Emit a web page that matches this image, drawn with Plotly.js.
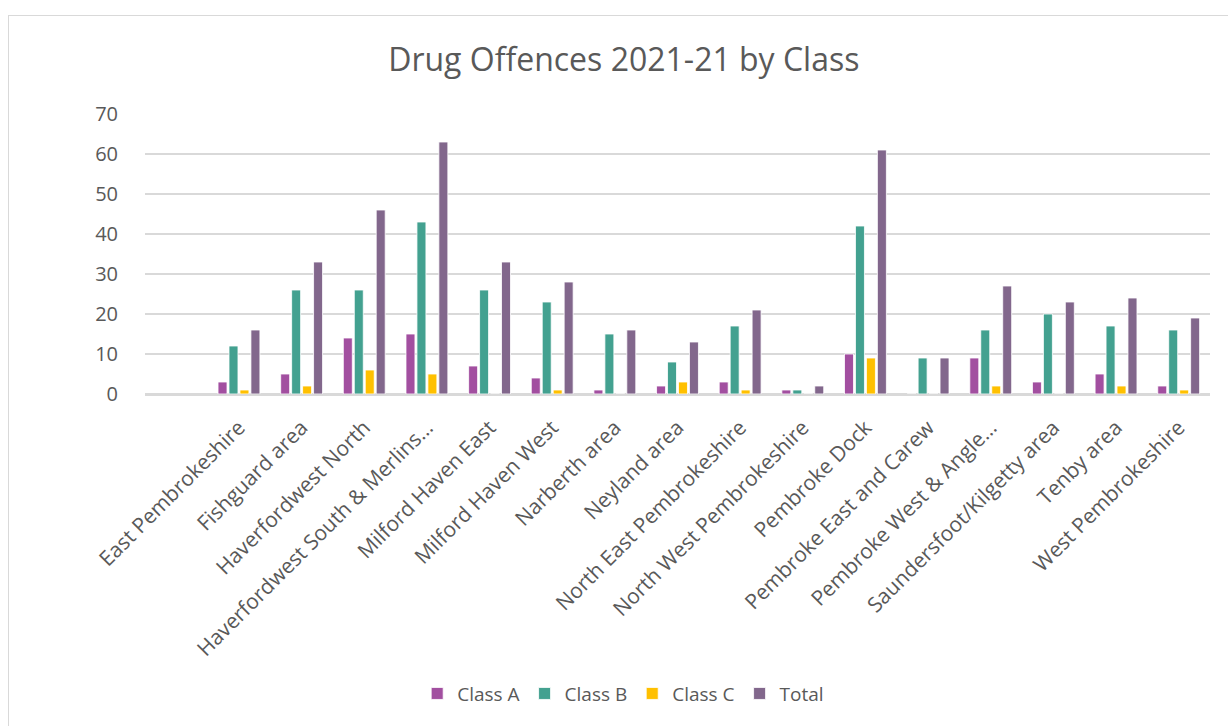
<!DOCTYPE html>
<html>
<head>
<meta charset="utf-8">
<script src="https://cdn.plot.ly/plotly-3.0.1.min.js"></script>
<style>
body{margin:0;padding:0;background:#fff;}
#wrap{position:relative;width:1228px;height:726px;overflow:hidden;}
#frame{position:absolute;left:8px;top:15px;width:1240px;height:740px;border:1.5px solid #d9d9d9;box-sizing:border-box;pointer-events:none;}
#chart{position:absolute;left:0;top:0;width:1228px;height:726px;}
</style>
</head>
<body>
<div id="wrap"><div id="chart"></div><div id="frame"></div></div>
<script>
const categories = ["East Pembrokeshire","Fishguard area","Haverfordwest North","Haverfordwest South & Merlins\u2026","Milford Haven East","Milford Haven West","Narberth area","Neyland area","North East Pembrokeshire","North West Pembrokeshire","Pembroke Dock","Pembroke East and Carew","Pembroke West & Angle\u2026","Saundersfoot/Kilgetty area","Tenby area","West Pembrokeshire"];
const classA = [3,5,14,15,7,4,1,2,3,1,10,0,9,3,5,2];
const classB = [12,26,26,43,26,23,15,8,17,1,42,9,16,20,17,16];
const classC = [1,2,6,5,0,1,0,3,1,0,9,0,2,0,2,1];
const total  = [16,33,46,63,33,28,16,13,21,2,61,9,27,23,24,19];
const yTicks = [0,10,20,30,40,50,60,70];

const font = "Open Sans, Lato, sans-serif";
function mk(name, y, color){
  return {type:'bar', name:name, x:categories, y:y,
    marker:{color:color, line:{color:'rgba(255,255,255,0.8)', width:1}}};
}
const data = [
  mk('Class A', classA, '#A24FA0'),
  mk('Class B', classB, '#43A190'),
  mk('Class C', classC, '#FFC000'),
  mk('Total', total, '#82678C')
];
const layout = {
  width:1228, height:726,
  margin:{l:145, r:18, t:114, b:332, pad:0},
  paper_bgcolor:'rgba(0,0,0,0)', plot_bgcolor:'rgba(0,0,0,0)',
  font:{family:font, color:'#595959', size:18},
  title:{text:'Drug Offences 2021-21 by Class', font:{family:font, size:32, color:'#595959'}, x:0.508, xanchor:'center', y:0.917, yanchor:'middle'},
  barmode:'group', bargap:0.3, bargroupgap:0.18,
  xaxis:{type:'category', range:[-1.5, categories.length-0.5], tickangle:-45, tickfont:{size:21, color:'#595959'}, showgrid:false, showline:false, ticks:'outside', ticklen:12, tickcolor:'rgba(0,0,0,0)', zeroline:false},
  yaxis:{range:[0,70], tickvals:yTicks, ticktext:yTicks.map(String), tickfont:{size:20,color:'#595959'}, gridcolor:'#d9d9d9', gridwidth:1.5, zeroline:true, zerolinecolor:'#d9d9d9', zerolinewidth:3, showline:false, ticks:'outside', ticklen:22, tickcolor:'rgba(0,0,0,0)'},
  legend:{orientation:'h', x:0.449, xanchor:'center', y:-1.07, yanchor:'middle', font:{size:19,color:'#595959'}, itemwidth:30, traceorder:'normal'},
  showlegend:true
};
Plotly.newPlot('chart', data, layout, {displayModeBar:false, staticPlot:true});
</script>
</body>
</html>
